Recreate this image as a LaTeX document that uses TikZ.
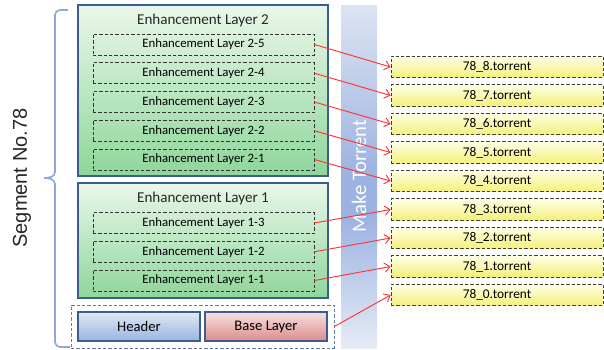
\documentclass[tikz,border=0pt]{standalone}
\usepackage{fontspec}
\setmainfont{Carlito}
\newfontfamily\arialf{Liberation Sans}
\usetikzlibrary{arrows.meta}
\definecolor{bordblue}{HTML}{3A5F8E}
\definecolor{greentop}{HTML}{EAF7EA}
\definecolor{greenbot}{HTML}{8ED69A}
\definecolor{bluetop}{HTML}{DFE8F6}
\definecolor{bluebot}{HTML}{9AB4E0}
\definecolor{redtop}{HTML}{F7E0E0}
\definecolor{redbot}{HTML}{DC8C8C}
\definecolor{yeltop}{HTML}{FFFFE6}
\definecolor{yelbot}{HTML}{F4F07A}
\definecolor{bartop}{HTML}{DCE4F2}
\definecolor{barmid}{HTML}{9CB2E0}
\definecolor{barbot}{HTML}{E6ECF7}
\definecolor{bracecol}{HTML}{8CA8D6}
\definecolor{arrred}{HTML}{FF3333}
\pgfdeclareverticalshading{barshade}{100bp}{color(0bp)=(barbot); color(25bp)=(barbot); color(44bp)=(barmid); color(50bp)=(barmid); color(75bp)=(bartop); color(100bp)=(bartop)}
\begin{document}
\begin{tikzpicture}[x=0.75pt,y=-0.75pt,
  layerbox/.style={draw=bordblue, line width=1.6pt, top color=greentop, bottom color=greenbot, minimum width=187.5pt, inner sep=0pt},
  subbox/.style={draw=black!80, dash pattern=on 2.5pt off 1.5pt, line width=0.6pt, minimum width=165.75pt, minimum height=15.75pt, inner sep=0pt, font=\fontsize{9.6}{11}\selectfont},
  titletext/.style={font=\fontsize{11.3}{13}\selectfont, text=black!85},
  basebox/.style={draw=bordblue, line width=1.6pt, minimum width=91.5pt, minimum height=21.75pt, inner sep=0pt, font=\fontsize{11}{13}\selectfont},
  torbox/.style={draw=black!75, dash pattern=on 2.5pt off 1.5pt, line width=0.6pt, top color=yeltop, bottom color=yelbot, minimum width=159pt, minimum height=16pt, inner sep=0pt, font=\fontsize{10}{12}\selectfont},
  arr/.style={draw=arrred, line width=0.7pt, -{Straight Barb[length=4pt,width=7pt]}}
]
\useasboundingbox (0,0) rectangle (604,350);

% brace and label
\draw[bracecol, line width=1.2pt] (68,10) -- (60,10) to[out=180,in=90] (55,15) -- (55,172) to[out=-90,in=0] (44,178) to[out=0,in=90] (55,184) -- (55,342) to[out=-90,in=180] (60,347) -- (70,347);
\node[rotate=90, font=\arialf\fontsize{15}{18}\selectfont, text=black!85] (seg) at (22,178) {Segment No.78};

% Make Torrent bar
\node[shading=barshade, draw=none, minimum width=27pt, minimum height=257.25pt, inner sep=0pt] (bar) at (359,176.5) {};
\node[rotate=90, text=white, font=\fontsize{15.5}{18}\selectfont] (bartext) at (359,176) {Make Torrent};

% Enhancement Layer 2
\node[layerbox, minimum height=128.25pt] (el2) at (203,90.5) {};
\node[titletext] (el2t) at (203,20) {Enhancement Layer 2};
\node[subbox] (s25) at (203.5,44.5) {Enhancement Layer 2-5};
\node[subbox] (s24) at (203.5,73.25) {Enhancement Layer 2-4};
\node[subbox] (s23) at (203.5,102) {Enhancement Layer 2-3};
\node[subbox] (s22) at (203.5,130.75) {Enhancement Layer 2-2};
\node[subbox] (s21) at (203.5,159.5) {Enhancement Layer 2-1};

% Enhancement Layer 1
\node[layerbox, minimum height=86.25pt] (el1) at (203,240.5) {};
\node[titletext] (el1t) at (203,198) {Enhancement Layer 1};
\node[subbox] (s13) at (203.5,223) {Enhancement Layer 1-3};
\node[subbox] (s12) at (203.5,251.75) {Enhancement Layer 1-2};
\node[subbox] (s11) at (203.5,280.5) {Enhancement Layer 1-1};

% base group
\node[draw=bordblue!80, dash pattern=on 2.5pt off 1.5pt, line width=0.6pt, minimum width=197.25pt, minimum height=32.25pt, inner sep=0pt] (grp) at (202.5,326.5) {};
\node[basebox, top color=bluetop, bottom color=bluebot] (hdr) at (139,326.5) {Header};
\node[basebox, top color=redtop, bottom color=redbot] (base) at (266,326.5) {Base Layer};

% torrents
\node[torbox] (t8) at (497,67) {78\_8.torrent};
\node[torbox] (t7) at (497,95.5) {78\_7.torrent};
\node[torbox] (t6) at (497,124) {78\_6.torrent};
\node[torbox] (t5) at (497,152.5) {78\_5.torrent};
\node[torbox] (t4) at (497,181) {78\_4.torrent};
\node[torbox] (t3) at (497,209.5) {78\_3.torrent};
\node[torbox] (t2) at (497,238) {78\_2.torrent};
\node[torbox] (t1) at (497,266.5) {78\_1.torrent};
\node[torbox] (t0) at (497,295) {78\_0.torrent};

% arrows
\draw[arr] (s25.east) -- (t8.west);
\draw[arr] (s24.east) -- (t7.west);
\draw[arr] (s23.east) -- (t6.west);
\draw[arr] (s22.east) -- (t5.west);
\draw[arr] (s21.east) -- (t4.west);
\draw[arr] (s13.east) -- (t3.west);
\draw[arr] (s12.east) -- (t2.west);
\draw[arr] (s11.east) -- (t1.west);
\draw[arr] (grp.east) -- (t0.west);
\end{tikzpicture}
\end{document}
